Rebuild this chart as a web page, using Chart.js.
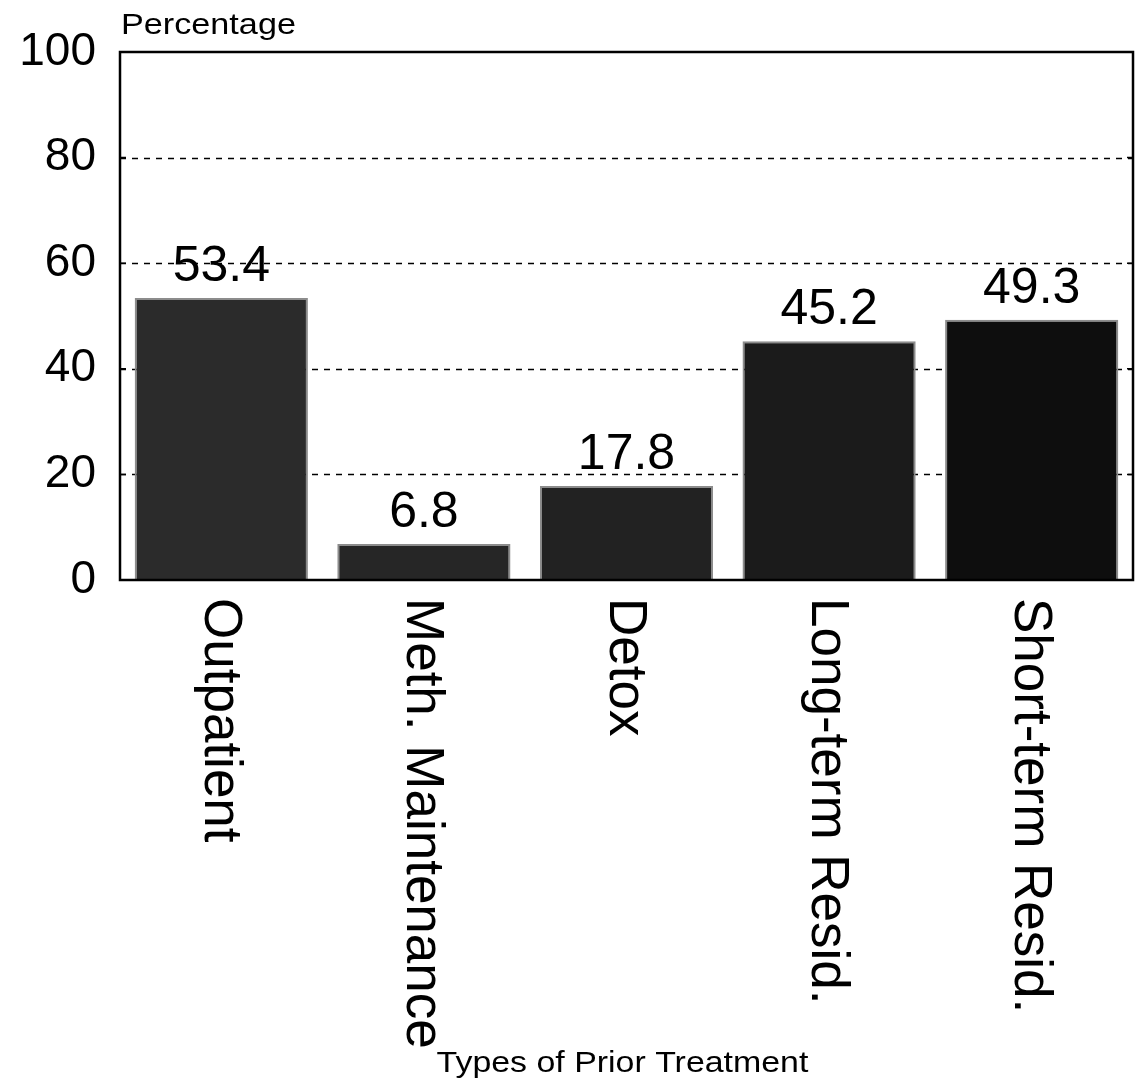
<!DOCTYPE html>
<html>
<head>
<meta charset="utf-8">
<script src="https://cdn.jsdelivr.net/npm/chart.js@4/dist/chart.umd.min.js"></script>
<style>
  body { margin: 0; background: #fff; }
  #wrap { width: 1139px; height: 1092px; position: relative; }
</style>
</head>
<body>
<div id="wrap"><canvas id="chartTratamiento"></canvas></div>
<script>
// datos del grafico
const categorias = ['Outpatient', 'Meth. Maintenance', 'Detox', 'Long-term Resid.', 'Short-term Resid.'];
const valores = [53.4, 6.8, 17.8, 45.2, 49.3];
const ticksY = [0, 20, 40, 60, 80, 100];
const tituloY = 'Percentage';
const tituloX = 'Types of Prior Treatment';

const fuente = '"Liberation Sans", Arial, sans-serif';

// etiquetas, marco y titulos dibujados a mano
const extras = {
    id: 'extras',
    beforeDatasetsDraw(chart) {
        const ctx = chart.ctx;
        const yScale = chart.scales.y;
        const a = chart.chartArea;
        ctx.save();
        ctx.strokeStyle = '#000';
        ctx.lineWidth = 1.5;
        ctx.setLineDash([6, 6]);
        ticksY.slice(1, -1).forEach(v => {
            const y = Math.round(yScale.getPixelForValue(v)) + 0.5;
            ctx.beginPath();
            ctx.moveTo(a.left, y);
            ctx.lineTo(a.right, y);
            ctx.stroke();
        });
        ctx.restore();
    },
    afterDatasetsDraw(chart) {
        const ctx = chart.ctx;
        const a = chart.chartArea;
        const meta = chart.getDatasetMeta(0);
        const yScale = chart.scales.y;
        ctx.save();

        // marco
        ctx.strokeStyle = '#000';
        ctx.lineWidth = 2.5;
        ctx.strokeRect(a.left, a.top, a.right - a.left, a.bottom - a.top);

        // marcas internas
        ctx.lineWidth = 1.5;
        ticksY.slice(1, -1).forEach(v => {
            const y = yScale.getPixelForValue(v);
            ctx.beginPath();
            ctx.moveTo(a.left, y); ctx.lineTo(a.left + 6, y);
            ctx.moveTo(a.right, y); ctx.lineTo(a.right - 6, y);
            ctx.stroke();
        });

        // valores sobre las barras
        ctx.fillStyle = '#000';
        ctx.font = '50px ' + fuente;
        ctx.textAlign = 'center';
        ctx.textBaseline = 'alphabetic';
        meta.data.forEach((bar, i) => {
            ctx.fillText(valores[i].toFixed(1), bar.x, bar.y - 17);
        });

        // categorias rotadas
        ctx.font = '53px ' + fuente;
        ctx.textAlign = 'left';
        ctx.textBaseline = 'middle';
        meta.data.forEach((bar, i) => {
            ctx.save();
            ctx.translate(bar.x - 2, a.bottom + 18);
            ctx.rotate(Math.PI / 2);
            ctx.fillText(categorias[i], 0, 0);
            ctx.restore();
        });

        // titulo del eje Y
        ctx.save();
        ctx.font = '30px ' + fuente;
        ctx.textAlign = 'left';
        ctx.textBaseline = 'alphabetic';
        ctx.translate(a.left + 1, a.top - 18);
        ctx.scale(1.14, 1);
        ctx.fillText(tituloY, 0, 0);
        ctx.restore();

        // titulo del eje X
        ctx.save();
        ctx.font = '30px ' + fuente;
        ctx.textAlign = 'center';
        ctx.textBaseline = 'alphabetic';
        ctx.translate((a.left + a.right) / 2 - 4, a.bottom + 492);
        ctx.scale(1.13, 1);
        ctx.fillText(tituloX, 0, 0);
        ctx.restore();

        ctx.restore();
    }
};

const ctx = document.getElementById('chartTratamiento').getContext('2d');
new Chart(ctx, {
    type: 'bar',
    data: {
        labels: categorias,
        datasets: [{
            data: valores,
            backgroundColor: ['#2b2b2b', '#262626', '#222222', '#1b1b1b', '#0e0e0e'],
            borderColor: '#8c8c8c',
            borderWidth: 2,
            borderSkipped: 'bottom',
            barPercentage: 0.855,
            categoryPercentage: 1
        }]
    },
    options: {
        responsive: true,
        maintainAspectRatio: false,
        animation: false,
        layout: {
            padding: { top: 52, right: 6, bottom: 0, left: 0 }
        },
        plugins: {
            legend: { display: false },
            tooltip: { enabled: false }
        },
        scales: {
            x: {
                ticks: { display: false },
                grid: { display: false },
                border: { display: false },
                afterFit(scale) { scale.height = 512; }
            },
            y: {
                min: 0,
                max: 100,
                afterBuildTicks(scale) {
                    scale.ticks = ticksY.map(v => ({ value: v }));
                },
                ticks: {
                    color: '#000',
                    padding: 24,
                    font: { family: fuente, size: 46 }
                },
                grid: { display: false, drawTicks: false },
                border: { display: false },
                afterFit(scale) { scale.width = 120; }
            }
        }
    },
    plugins: [extras]
});
</script>
</body>
</html>
